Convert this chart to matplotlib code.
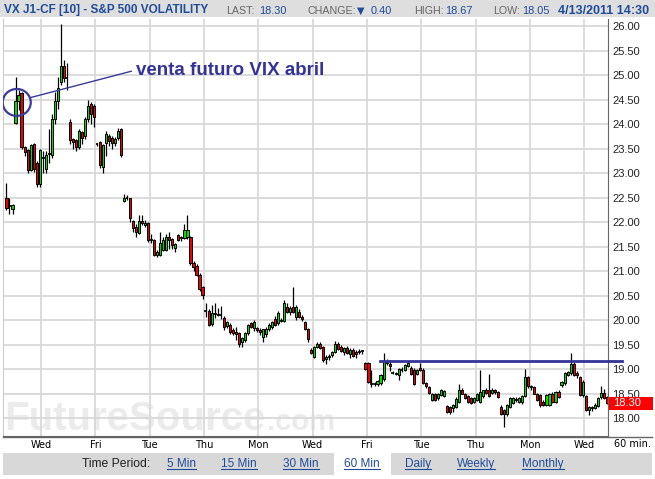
import numpy as np
import matplotlib
matplotlib.use("Agg")
import matplotlib.pyplot as plt
import matplotlib.transforms as mtransforms
from matplotlib.patches import Rectangle, Ellipse
from matplotlib.lines import Line2D

W, H = 655, 479

# 60-min bars, 9 per trading day (first 3 = end of the first Monday)
opens = [22.50, 22.32, 22.27,
         24.02, 24.47, 24.63, 23.54, 23.47, 23.06, 23.59, 23.20, 22.78,
         23.30, 23.08, 23.38, 23.37, 24.10, 24.47, 24.86, 25.18, 24.94,
         24.04, 23.69, 23.67, 23.53, 23.84, 23.75, 24.10, 24.41, 24.37,
         23.59, 23.63, 23.12, 23.61, 23.76, 23.72, 23.61, 23.72, 23.90,
         22.43, 22.50, 22.49, 22.03, 21.90, 21.77, 22.03, 21.93, 21.99,
         21.63, 21.63, 21.33, 21.33, 21.43, 21.43, 21.70, 21.65, 21.47,
         21.73, 21.68, 21.67, 21.70, 21.69, 21.16, 21.10, 20.92, 20.67,
         20.19, 20.19, 19.92, 20.15, 20.12, 20.10, 20.04, 19.88, 19.90,
         19.80, 19.75, 19.74, 19.55, 19.60, 19.73, 19.93, 19.84, 19.83,
         19.80, 19.66, 19.72, 19.81, 19.86, 20.03, 19.93, 19.98, 19.97,
         20.27, 20.17, 20.27, 20.06, 20.17, 20.07, 19.95, 19.82, 19.39,
         19.25, 19.45, 19.52, 19.45, 19.20, 19.24, 19.28, 19.35, 19.52,
         19.45, 19.35, 19.43, 19.30, 19.39, 19.35, 19.36, 19.35, 19.12,
         19.12, 18.69, 18.69, 18.69, 18.71, 18.79, 19.12, 19.10, 18.93,
         18.92, 18.88, 18.99, 18.99, 19.06, 19.03, 18.99, 18.90, 19.03,
         18.99, 18.71, 18.64, 18.37, 18.50, 18.40, 18.47, 18.45, 18.24,
         18.23, 18.20, 18.23, 18.33, 18.58, 18.50, 18.44, 18.40, 18.33,
         18.37, 18.33, 18.44, 18.58, 18.57, 18.52, 18.58, 18.54, 18.23,
         18.16, 18.08, 18.23, 18.30, 18.39, 18.33, 18.33, 18.44, 18.83,
         18.64, 18.64, 18.49, 18.46, 18.33, 18.27, 18.27, 18.50, 18.33,
         18.54, 18.67, 18.71, 18.88, 18.91, 19.10, 18.91, 18.83, 18.47,
         18.44, 18.16, 18.20, 18.20, 18.25, 18.42, 18.52, 18.42]
highs = [22.80, 22.50, 22.37,
         24.95, 24.70, 24.65, 23.56, 23.50, 23.60, 23.62, 23.25, 23.50,
         23.45, 23.45, 23.90, 24.20, 24.65, 24.95, 26.05, 25.30, 25.24,
         24.10, 23.72, 23.70, 23.90, 23.86, 24.15, 24.50, 24.45, 24.40,
         23.62, 23.65, 23.60, 23.85, 23.80, 23.75, 23.74, 23.92, 23.92,
         22.57, 22.55, 22.50, 22.05, 21.95, 22.14, 22.14, 22.05, 22.00,
         21.75, 21.65, 21.42, 21.80, 21.70, 21.75, 21.80, 21.68, 21.58,
         21.75, 21.72, 21.95, 22.14, 21.72, 21.20, 21.15, 20.95, 20.70,
         20.34, 20.22, 20.30, 20.35, 20.25, 20.28, 20.08, 19.98, 19.94,
         19.84, 19.85, 19.76, 19.66, 19.76, 19.92, 19.95, 20.00, 19.86,
         19.84, 19.82, 19.86, 19.93, 19.98, 20.08, 20.18, 20.05, 20.40,
         20.34, 20.28, 20.67, 20.30, 20.22, 20.10, 19.97, 19.84, 19.42,
         19.47, 19.55, 19.56, 19.47, 19.28, 19.30, 19.36, 19.58, 19.55,
         19.48, 19.45, 19.46, 19.42, 19.42, 19.38, 19.40, 19.38, 19.14,
         19.14, 18.98, 18.74, 18.78, 18.90, 19.33, 19.20, 19.18, 18.96,
         18.94, 19.03, 19.05, 19.10, 19.17, 19.06, 19.02, 19.00, 19.13,
         19.02, 18.73, 18.66, 18.52, 18.52, 18.52, 18.60, 18.58, 18.27,
         18.25, 18.28, 18.42, 18.69, 18.62, 18.52, 18.46, 18.43, 18.42,
         18.52, 18.99, 18.58, 18.62, 18.90, 18.62, 18.60, 18.56, 18.26,
         18.18, 18.29, 18.42, 18.42, 18.42, 18.42, 18.46, 19.00, 18.86,
         18.68, 18.66, 18.51, 18.48, 18.36, 18.49, 18.52, 18.53, 18.56,
         18.57, 18.76, 18.93, 18.95, 19.32, 19.15, 18.95, 18.86, 18.77,
         18.46, 18.24, 18.25, 18.30, 18.42, 18.65, 18.60, 18.45]
lows = [22.25, 22.16, 22.16,
        24.00, 24.29, 23.50, 23.35, 23.00, 23.05, 23.02, 22.71, 22.72,
        23.00, 23.00, 23.20, 23.30, 24.00, 24.30, 24.80, 24.85, 24.69,
        23.60, 23.50, 23.45, 23.50, 23.60, 23.70, 24.05, 24.00, 23.94,
        23.55, 23.10, 23.00, 23.35, 23.55, 23.50, 23.55, 23.68, 23.33,
        22.40, 22.45, 22.00, 21.80, 21.70, 21.75, 21.93, 21.90, 21.60,
        21.58, 21.30, 21.28, 21.30, 21.40, 21.40, 21.45, 21.45, 21.38,
        21.62, 21.62, 21.65, 21.65, 21.12, 21.00, 20.90, 20.60, 20.43,
        20.07, 19.88, 19.88, 20.05, 20.08, 20.02, 19.80, 19.84, 19.72,
        19.70, 19.60, 19.45, 19.45, 19.56, 19.70, 19.84, 19.78, 19.76,
        19.70, 19.56, 19.66, 19.78, 19.82, 19.88, 19.90, 19.95, 19.96,
        20.15, 20.10, 20.15, 20.00, 20.05, 19.98, 19.80, 19.55, 19.30,
        19.22, 19.42, 19.40, 19.15, 19.10, 19.18, 19.25, 19.33, 19.38,
        19.35, 19.28, 19.30, 19.22, 19.25, 19.22, 19.30, 19.30, 18.98,
        18.72, 18.64, 18.65, 18.66, 18.68, 18.76, 19.08, 18.95, 18.90,
        18.88, 18.78, 18.93, 18.96, 19.04, 18.88, 18.68, 18.88, 18.95,
        18.69, 18.62, 18.50, 18.35, 18.34, 18.37, 18.45, 18.42, 18.10,
        18.08, 18.12, 18.20, 18.30, 18.48, 18.38, 18.30, 18.28, 18.30,
        18.35, 18.30, 18.40, 18.48, 18.42, 18.48, 18.50, 18.40, 18.06,
        17.82, 18.05, 18.20, 18.28, 18.33, 18.30, 18.28, 18.42, 18.62,
        18.58, 18.48, 18.35, 18.22, 18.24, 18.24, 18.25, 18.30, 18.30,
        18.40, 18.64, 18.68, 18.85, 18.88, 18.86, 18.82, 18.45, 18.42,
        18.14, 18.06, 18.15, 18.18, 18.22, 18.38, 18.38, 18.28]
closes = [22.29, 22.32, 22.35,
          24.47, 24.59, 23.54, 23.43, 23.06, 23.57, 23.08, 22.78, 23.47,
          23.32, 23.37, 23.40, 24.10, 24.47, 24.73, 25.18, 24.94, 24.94,
          23.67, 23.63, 23.53, 23.86, 23.71, 24.10, 24.37, 24.20, 24.14,
          23.60, 23.16, 23.57, 23.80, 23.65, 23.62, 23.70, 23.86, 23.37,
          22.49, 22.49, 22.08, 21.87, 21.80, 22.03, 21.97, 21.99, 21.63,
          21.63, 21.33, 21.39, 21.57, 21.63, 21.70, 21.63, 21.53, 21.55,
          21.63, 21.67, 21.84, 21.84, 21.16, 21.09, 20.92, 20.63, 20.51,
          20.18, 19.90, 20.14, 20.12, 20.10, 20.11, 19.86, 19.95, 19.76,
          19.74, 19.72, 19.52, 19.63, 19.73, 19.90, 19.86, 19.95, 19.80,
          19.76, 19.81, 19.82, 19.90, 19.95, 19.90, 20.14, 20.00, 20.34,
          20.17, 20.24, 20.17, 20.27, 20.07, 20.02, 19.82, 19.61, 19.33,
          19.45, 19.52, 19.42, 19.18, 19.24, 19.27, 19.35, 19.52, 19.40,
          19.37, 19.42, 19.32, 19.38, 19.27, 19.30, 19.35, 19.36, 19.01,
          18.74, 18.70, 18.70, 18.75, 18.88, 19.17, 19.17, 19.06, 18.92,
          18.90, 19.01, 18.98, 19.08, 19.13, 18.90, 18.70, 18.97, 18.97,
          18.71, 18.65, 18.52, 18.50, 18.37, 18.50, 18.57, 18.56, 18.13,
          18.13, 18.26, 18.39, 18.57, 18.50, 18.40, 18.33, 18.30, 18.40,
          18.50, 18.54, 18.57, 18.52, 18.45, 18.58, 18.53, 18.42, 18.08,
          18.08, 18.27, 18.40, 18.40, 18.36, 18.40, 18.44, 18.83, 18.66,
          18.64, 18.50, 18.37, 18.27, 18.27, 18.47, 18.50, 18.33, 18.54,
          18.42, 18.74, 18.91, 18.93, 19.10, 18.88, 18.88, 18.47, 18.74,
          18.16, 18.23, 18.23, 18.27, 18.40, 18.52, 18.40, 18.30]

bars_per_day = 9
first_bar_of_day = 6          # the chart opens on the 7th bar of a Monday
day_labels = ["Wed", "Fri", "Tue", "Thu", "Mon", "Wed", "Fri", "Tue", "Thu", "Mon", "Wed"]
label_days = list(range(2, 23, 2))
price_ticks = np.arange(18.0, 26.01, 0.5)

last_price = 18.30
resistance = 19.17
header_title = "VX J1-CF [10] - S&P 500 VOLATILITY"
header_stats = [("LAST:", "18.30", 226, 259), ("CHANGE:", "0.40", 307, 371),
                ("HIGH:", "18.67", 414, 445), ("LOW:", "18.05", 493, 522)]
header_date = "4/13/2011 14:30"
periods = ["5 Min", "15 Min", "30 Min", "60 Min", "Daily", "Weekly", "Monthly"]
period_x = [167, 221, 283, 344, 405, 457, 522]

BLUE = "#1f4c99"
NAVY = "#333399"
GRID = "#d9d9d9"

plt.rcParams["font.family"] = ["Liberation Sans", "DejaVu Sans"]


def fx(px):
    return px / W


def fy(py):
    return 1 - py / H


fig = plt.figure(figsize=(W / 100, H / 100), dpi=100)
fig.patch.set_facecolor("white")

# ---- chart area
ax = fig.add_axes([fx(3), fy(436), (608 - 3) / W, (436 - 19) / H])
x = np.arange(len(opens))
o = np.array(opens)
hi = np.array(highs)
lo = np.array(lows)
c = np.array(closes)

ax.vlines(x, lo, hi, color="black", lw=0.9, zorder=3)
up = c > o + 0.015
dn = c < o - 0.015
flat = ~(up | dn)
ax.bar(x[up], (c - o)[up], bottom=o[up], width=0.7, color="#00dd00",
       edgecolor="black", lw=0.7, zorder=4)
ax.bar(x[dn], (o - c)[dn], bottom=c[dn], width=0.7, color="#ee0000",
       edgecolor="black", lw=0.7, zorder=4)
ax.hlines(c[flat], x[flat] - 0.45, x[flat] + 0.45, color="black", lw=1.2, zorder=4)

day_edges = [bars_per_day * d - first_bar_of_day - 0.5 for d in label_days]
ax.set_xlim(-1.15, 199.4)
ax.set_ylim(17.633, 26.143)
ax.set_xticks(day_edges)
ax.set_xticklabels(day_labels, fontsize=7, family="DejaVu Sans")
ax.set_yticks(price_ticks)
ax.set_yticklabels([f"{v:.2f}" for v in price_ticks], fontsize=8, color="#222222")
ax.yaxis.tick_right()
ax.tick_params(axis="y", length=0, pad=3)
ax.tick_params(axis="x", length=0, pad=3)
ax.grid(True, color=GRID, lw=1.3)
ax.set_axisbelow(True)
ax.spines["top"].set_visible(False)
ax.spines["left"].set_color("#cccccc")
ax.spines["right"].set_color("#666666")
ax.spines["bottom"].set_color("#666666")

# watermark
ax.text(0.002, 0.015, "FutureSource", transform=ax.transAxes, fontsize=29, fontweight="bold",
        color="#ebebeb", ha="left", va="baseline", zorder=0)
ax.text(0.437, 0.015, ".com", transform=ax.transAxes, fontsize=21, fontweight="bold",
        color="#ebebeb", ha="left", va="baseline", zorder=0)

# resistance line, runs past the axis
ax.plot([123.8, 204.0], [resistance, resistance], color=NAVY, lw=2.0, clip_on=False, zorder=5)

# circled bar + note
ax.add_patch(Ellipse((3.4, 24.44), 9.3, 0.55, fill=False, edgecolor="#3a3a9c", lw=1.6, zorder=6))
ax.annotate("venta futuro VIX abril", xy=(8.0, 24.54), xytext=(42.8, 25.10),
            fontsize=13.5, fontweight="bold", color=NAVY, va="center", ha="left",
            arrowprops=dict(arrowstyle="-", color="#3a3a9c", lw=1.0, shrinkA=1, shrinkB=0,
                            relpos=(0, 0.5)),
            zorder=6)

# last price tag
blend = mtransforms.blended_transform_factory(ax.transAxes, ax.transData)
ax.add_patch(Rectangle((1.0 + 1 / 605, last_price - 0.13), 44 / 605, 0.26, transform=blend,
                       facecolor="#ff0000", edgecolor="none", clip_on=False, zorder=7))
ax.text(1.0 + 5 / 605, last_price, f"{last_price:.2f}", transform=blend, color="white",
        fontsize=8, va="center", ha="left", zorder=8, clip_on=False)

fig.text(fx(632), fy(444), "60 min.", fontsize=7, family="DejaVu Sans", ha="center", va="center")
fig.add_artist(Line2D([fx(3), fx(652)], [fy(436.5), fy(436.5)], color="#666666", lw=1.0))

# ---- header
fig.add_artist(Rectangle((0, fy(17)), 1, 17 / H, transform=fig.transFigure,
                         facecolor="#dedede", edgecolor="none"))
fig.text(fx(4), fy(13.5), header_title, fontsize=8.5, fontweight="bold", color=BLUE, va="baseline")
for label, value, lx, vx in header_stats:
    fig.text(fx(lx), fy(13.5), label, fontsize=7.7, color="#666666", va="baseline")
    fig.text(fx(vx), fy(13.5), value, fontsize=7.9, color=BLUE, va="baseline")
fig.text(fx(357), fy(13.5), "\u25bc", fontsize=7, color=BLUE, va="baseline", family="DejaVu Sans")
fig.text(fx(649), fy(13.5), header_date, fontsize=9.0, fontweight="bold", color=BLUE,
         va="baseline", ha="right")

# ---- time period bar
fig.add_artist(Rectangle((fx(3), fy(475)), (652 - 3) / W, 22 / H, transform=fig.transFigure,
                         facecolor="#d8d8d8", edgecolor="none"))
fig.add_artist(Rectangle((fx(334), fy(475)), 57 / W, 22 / H, transform=fig.transFigure,
                         facecolor="white", edgecolor="none"))
fig.text(fx(82), fy(464), "Time Period:", fontsize=8.7, color="#222222", va="center")
period_texts = []
for name, px in zip(periods, period_x):
    t = fig.text(fx(px), fy(464), name, fontsize=8.5, color=BLUE, va="center")
    period_texts.append(t)

fig.canvas.draw()
renderer = fig.canvas.get_renderer()
inv = fig.transFigure.inverted()
for t in period_texts:
    bb = t.get_window_extent(renderer)
    (x0, y0), (x1, y1) = inv.transform([(bb.x0, bb.y0), (bb.x1, bb.y1)])
    fig.add_artist(Line2D([x0, x1], [y0 + 0.002, y0 + 0.002], color=BLUE, lw=0.8))

fig.savefig("out.png", dpi=100)
